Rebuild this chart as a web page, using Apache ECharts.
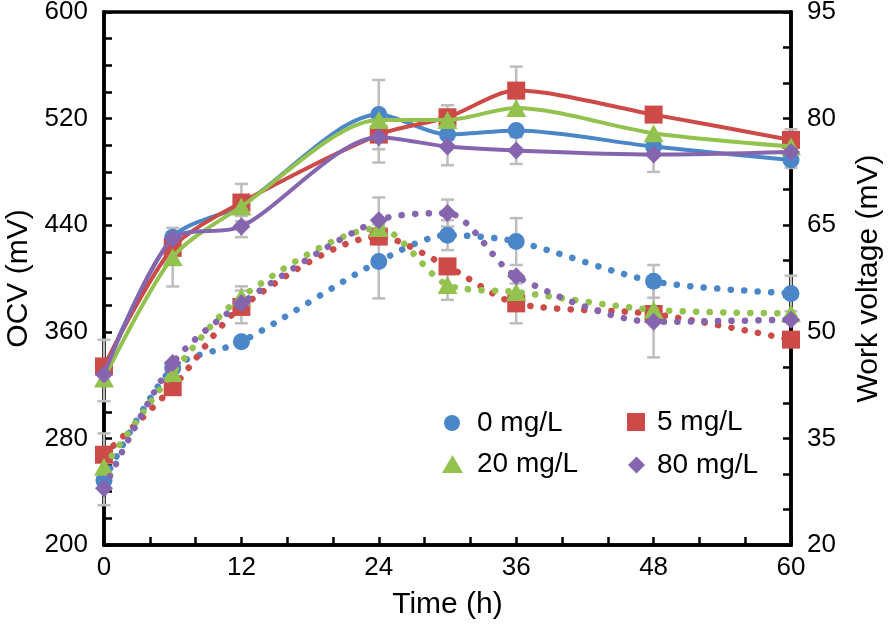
<!DOCTYPE html>
<html>
<head>
<meta charset="utf-8">
<script src="https://cdn.jsdelivr.net/npm/echarts@6/dist/echarts.min.js"></script>
<style>html,body{margin:0;padding:0;background:#fff}#c{width:895px;height:630px}</style>
</head>
<body>
<div id="c"></div>
<script>
// ---- data ----
const time = [0, 6, 12, 24, 30, 36, 48, 60];
const names = ['0 mg/L', '5 mg/L', '20 mg/L', '80 mg/L'];
// OCV (mV), left axis, solid lines
const ocv0  = [331, 431, 455, 523, 508, 511, 499, 489];
const ocv5  = [334, 423, 457, 508, 521, 541, 523, 504];
const ocv20 = [325, 416, 454, 519, 519, 528, 509, 499];
const ocv80 = [328, 430, 439, 506, 499, 496, 493, 495];
// Work voltage (mV), right axis, dotted lines
const wv0  = [29.1, 44.9, 48.6, 59.9, 63.6, 62.7, 57.1, 55.4];
const wv5  = [32.7, 42.2, 53.5, 63.4, 59.2, 54.0, 52.5, 48.9];
const wv20 = [31.0, 44.2, 54.9, 64.6, 56.6, 55.6, 53.1, 52.6];
const wv80 = [28.0, 45.6, 54.0, 65.7, 66.7, 57.8, 51.4, 51.7];
// error bars (null = not visible)
const errO0  = [23, null, null, 26, null, null, null, 6];
const errO5  = [null, null, 14, null, 9, 18, 4, 8];
const errO20 = [null, 22, null, null, null, null, null, null];
const errO80 = [null, null, 8, 19, 14, 10, 13, null];
const errW0  = [null, null, null, 5.2, 2.1, 3.3, 2.3, 2.5];
const errW5  = [3.0, null, 2.3, null, null, 2.8, null, 1.0];
const errW20 = [null, null, 1.5, null, 2.1, null, null, null];
const errW80 = [2.4, null, null, 3.2, 1.9, null, 5.0, null];
// axis ticks
const xTicks = {min: 0, max: 60, interval: 12};
const yLeftTicks = {min: 200, max: 600, interval: 80};
const yRightTicks = {min: 20, max: 95, interval: 15};

// ---- style ----
const colors = ['#4A86C8', '#CC4A47', '#93C24F', '#8565AE'];
const symbols = ['circle', 'rect', 'triangle', 'diamond'];
const symSizes = [17, 18, [20, 18], 18];
const FONT = "'Liberation Sans', Arial, sans-serif";

function pairs(xs, ys) { return xs.map((x, i) => [x, ys[i]]); }
function errData(xs, ys, es) {
  const out = [];
  xs.forEach((x, i) => { if (es[i] != null) out.push([x, ys[i], es[i]]); });
  return out;
}
function errRender(params, api) {
  const x = api.value(0), y = api.value(1), e = api.value(2);
  const hi = api.coord([x, y + e]);
  const lo = api.coord([x, y - e]);
  const cap = 6.5;
  const st = {stroke: '#BDBDBD', lineWidth: 2.5};
  return {type: 'group', children: [
    {type: 'line', shape: {x1: hi[0], y1: hi[1], x2: lo[0], y2: lo[1]}, style: st},
    {type: 'line', shape: {x1: hi[0] - cap, y1: hi[1], x2: hi[0] + cap, y2: hi[1]}, style: st},
    {type: 'line', shape: {x1: lo[0] - cap, y1: lo[1], x2: lo[0] + cap, y2: lo[1]}, style: st}
  ]};
}

const ocv = [ocv0, ocv5, ocv20, ocv80];
const wv = [wv0, wv5, wv20, wv80];
const errO = [errO0, errO5, errO20, errO80];
const errW = [errW0, errW5, errW20, errW80];

const series = [];
for (let i = 0; i < 4; i++) {
  series.push({type: 'custom', yAxisIndex: 0, renderItem: errRender, data: errData(time, ocv[i], errO[i]), z: 1, silent: true});
  series.push({type: 'custom', yAxisIndex: 1, renderItem: errRender, data: errData(time, wv[i], errW[i]), z: 1, silent: true});
}
for (let i = 0; i < 4; i++) {
  series.push({
    name: names[i], type: 'line', yAxisIndex: 1, data: pairs(time, wv[i]), smooth: 0.28,
    symbol: symbols[i], symbolSize: symSizes[i], showAllSymbol: true,
    lineStyle: {color: colors[i], width: 6.5, type: [0.1, 13.4], cap: 'round'},
    itemStyle: {color: colors[i]}, z: 2 + i
  });
}
for (let i = 0; i < 4; i++) {
  series.push({
    name: names[i], type: 'line', yAxisIndex: 0, data: pairs(time, ocv[i]), smooth: 0.28,
    symbol: symbols[i], symbolSize: symSizes[i], showAllSymbol: true,
    lineStyle: {color: colors[i], width: 4},
    itemStyle: {color: colors[i]}, z: 6 + i
  });
}

const axisLine = {show: true, lineStyle: {color: '#000', width: 3.5}};
const axisTick = {show: true, inside: true, length: 8, lineStyle: {color: '#000', width: 2.5}};
const minorLine = {color: '#000', width: 2.5};
const labelStyle = {color: '#000', fontSize: 26, fontFamily: FONT};
const nameStyle = {color: '#000', fontSize: 30, fontFamily: FONT};

function legendItem(name, icon, left, top, w, h, pad) {
  return {
    data: [{name: name, icon: icon}], left: left, top: top, padding: 0,
    itemWidth: w, itemHeight: h, selectedMode: false,
    textStyle: {color: '#000', fontSize: 28, fontFamily: FONT, lineHeight: h, padding: [0, 0, 0, pad]}
  };
}

const option = {
  animation: false,
  backgroundColor: '#fff',
  grid: {left: 104, right: 104, top: 12, bottom: 85, show: true, borderColor: '#000', borderWidth: 3.5,
         outerBoundsMode: 'none', containLabel: false},
  legend: [
    legendItem(names[0], 'circle', 444, 409, 16, 16, 12),
    legendItem(names[1], 'rect', 627, 408, 18, 18, 7),
    legendItem(names[2], 'triangle', 442, 450, 21, 18, 9),
    legendItem(names[3], 'diamond', 628, 451, 17, 17, 7)
  ],
  xAxis: {
    type: 'value', min: xTicks.min, max: xTicks.max, interval: xTicks.interval,
    name: 'Time (h)', nameLocation: 'middle', nameGap: 45, nameTextStyle: nameStyle,
    axisLine: axisLine, axisTick: axisTick,
    minorTick: {show: true, splitNumber: 3, length: 8, lineStyle: minorLine},
    splitLine: {show: false},
    axisLabel: Object.assign({margin: 10}, labelStyle)
  },
  yAxis: [
    {
      type: 'value', position: 'left', min: yLeftTicks.min, max: yLeftTicks.max, interval: yLeftTicks.interval,
      name: 'OCV (mV)', nameLocation: 'middle', nameGap: 69, nameTextStyle: nameStyle,
      axisLine: axisLine, axisTick: axisTick,
      minorTick: {show: true, splitNumber: 4, length: 8, lineStyle: minorLine},
      splitLine: {show: false},
      axisLabel: Object.assign({margin: 16}, labelStyle)
    },
    {
      type: 'value', position: 'right', min: yRightTicks.min, max: yRightTicks.max, interval: yRightTicks.interval,
      name: 'Work voltage (mV)', nameLocation: 'middle', nameGap: 63, nameTextStyle: nameStyle,
      axisLine: axisLine, axisTick: axisTick,
      minorTick: {show: true, splitNumber: 3, length: 8, lineStyle: minorLine},
      splitLine: {show: false},
      axisLabel: Object.assign({margin: 16}, labelStyle)
    }
  ],
  series: series
};

const chart = echarts.init(document.getElementById('c'), null, {renderer: 'canvas'});
chart.setOption(option);
</script>
</body>
</html>
